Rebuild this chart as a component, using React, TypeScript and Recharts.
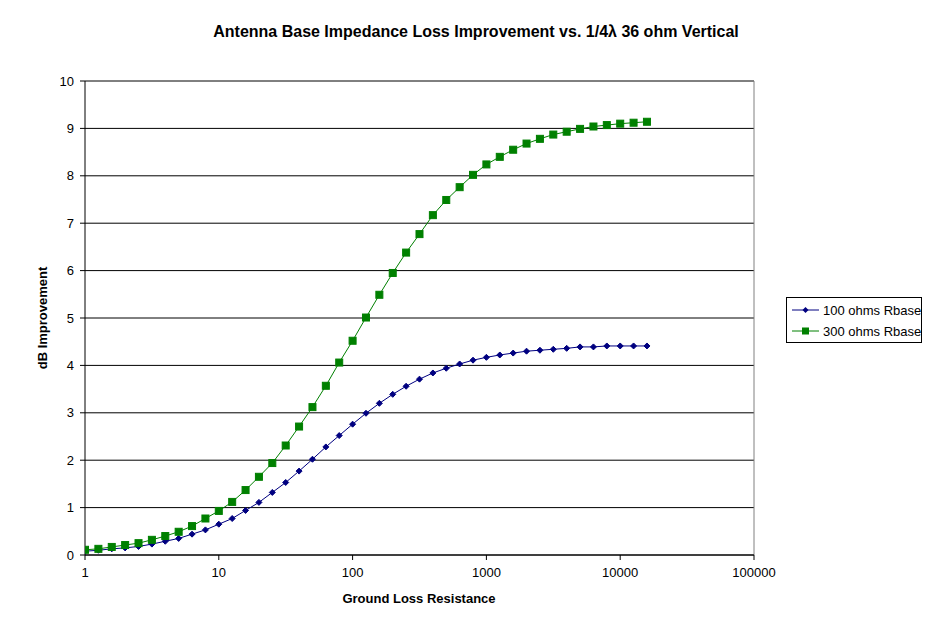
import React from 'react'
import { LineChart, Line, XAxis, YAxis, CartesianGrid, ReferenceLine } from 'recharts'

// ground loss resistance (ohms), 10 points per decade
const resistance = [
  1, 1.259, 1.585, 1.995, 2.512, 3.162, 3.981, 5.012, 6.31, 7.943,
  10, 12.59, 15.85, 19.95, 25.12, 31.62, 39.81, 50.12, 63.1, 79.43,
  100, 125.9, 158.5, 199.5, 251.2, 316.2, 398.1, 501.2, 631, 794.3,
  1000, 1259, 1585, 1995, 2512, 3162, 3981, 5012, 6310, 7943,
  10000, 12589, 15849,
]

const rbase100 = [
  0.08, 0.1, 0.13, 0.15, 0.18, 0.23, 0.29, 0.35, 0.44, 0.53,
  0.65, 0.77, 0.94, 1.11, 1.32, 1.53, 1.77, 2.02, 2.28, 2.52,
  2.76, 2.99, 3.2, 3.39, 3.56, 3.71, 3.84, 3.94, 4.03, 4.11,
  4.17, 4.22, 4.26, 4.3, 4.32, 4.34, 4.36, 4.39, 4.39, 4.41,
  4.41, 4.41, 4.41,
]

const rbase300 = [
  0.11, 0.13, 0.17, 0.21, 0.25, 0.32, 0.4, 0.49, 0.61, 0.77,
  0.93, 1.12, 1.37, 1.65, 1.94, 2.31, 2.71, 3.12, 3.57, 4.06,
  4.52, 5.01, 5.49, 5.95, 6.38, 6.77, 7.17, 7.49, 7.76, 8.02,
  8.24, 8.4, 8.55, 8.68, 8.78, 8.87, 8.93, 8.99, 9.04, 9.07,
  9.1, 9.12, 9.14,
]

const xTicks = [1, 10, 100, 1000, 10000, 100000]
const yTicks = [0, 1, 2, 3, 4, 5, 6, 7, 8, 9, 10]

const data = resistance.map((r, i) => ({ r, a: rbase100[i], b: rbase300[i] }))

const BLUE = '#000080'
const GREEN = '#008000'
const FONT = '"Liberation Sans", Arial, sans-serif'

const Diamond = (props: any) => {
  const { cx, cy, index } = props
  if (cx == null || cy == null) return null
  return <path key={'d' + index} d={`M${cx},${cy - 3}L${cx + 3},${cy}L${cx},${cy + 3}L${cx - 3},${cy}Z`} fill={BLUE} stroke={BLUE} />
}

const Square = (props: any) => {
  const { cx, cy, index } = props
  if (cx == null || cy == null) return null
  return <rect key={'s' + index} x={cx - 3.5} y={cy - 3.5} width={7} height={7} fill={GREEN} stroke={GREEN} />
}

export default function App() {
  return (
    <div style={{ position: 'relative', width: 936, height: 611, fontFamily: FONT, color: '#000' }}>
      <div style={{ position: 'absolute', left: 468, top: 24, transform: 'translate(-50%,-50%)', fontSize: 16, fontWeight: 'bold', whiteSpace: 'nowrap' }}>
        Antenna Base Impedance Loss Improvement vs. 1/4λ 36 ohm Vertical
      </div>
      <LineChart width={936} height={611} data={data} margin={{ top: 73, right: 190, left: 0, bottom: 0 }}>
        <CartesianGrid vertical={false} stroke="#000" />
        <XAxis
          dataKey="r"
          type="number"
          scale="log"
          domain={[1, 100000]}
          ticks={xTicks}
          allowDataOverflow
          height={64}
          stroke="#000"
          tickSize={5}
          tickMargin={8}
          tick={{ fill: '#000', fontSize: 13, fontFamily: FONT }}
        />
        <YAxis
          type="number"
          domain={[0, 10]}
          ticks={yTicks}
          width={77}
          stroke="#000"
          tickSize={5}
          tickMargin={6}
          tick={{ fill: '#000', fontSize: 13, fontFamily: FONT }}
        />
        <ReferenceLine x={100000} stroke="#808080" />
        <ReferenceLine y={10} stroke="#808080" />
        <Line dataKey="a" stroke={BLUE} strokeWidth={1} dot={Diamond} isAnimationActive={false} />
        <Line dataKey="b" stroke={GREEN} strokeWidth={1} dot={Square} isAnimationActive={false} />
      </LineChart>
      <div style={{ position: 'absolute', left: 34, top: 310, transform: 'translate(-50%,-50%) rotate(-90deg)', fontSize: 13, fontWeight: 'bold', whiteSpace: 'nowrap' }}>
        dB Improvement
      </div>
      <div style={{ position: 'absolute', left: 411, top: 590, transform: 'translate(-50%,-50%)', fontSize: 13, fontWeight: 'bold', whiteSpace: 'nowrap' }}>
        Ground Loss Resistance
      </div>
      <div style={{ position: 'absolute', left: 778, top: 289, width: 134, height: 44, border: '1px solid #000', fontSize: 13 }}>
        {[
          { name: '100 ohms Rbase', color: BLUE, square: false },
          { name: '300 ohms Rbase', color: GREEN, square: true },
        ].map((it, i) => (
          <div key={it.name} style={{ position: 'absolute', left: 5, top: 4 + i * 21, height: 16, display: 'flex', alignItems: 'center', whiteSpace: 'nowrap' }}>
            <svg width={28} height={16} style={{ marginRight: 3 }}>
              <line x1={0} y1={8} x2={27} y2={8} stroke={it.color} />
              {it.square
                ? <rect x={10} y={4.5} width={7} height={7} fill={it.color} />
                : <path d="M13.5,5L16.5,8L13.5,11L10.5,8Z" fill={it.color} />}
            </svg>
            {it.name}
          </div>
        ))}
      </div>
    </div>
  )
}
